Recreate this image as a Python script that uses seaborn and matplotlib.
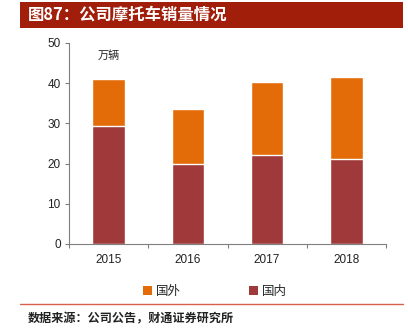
import matplotlib
matplotlib.use("Agg")
import matplotlib.pyplot as plt
import seaborn as sns
import pandas as pd
from matplotlib.patches import Rectangle, Patch
from matplotlib.lines import Line2D
from matplotlib.ticker import FixedLocator

years = ["2015", "2016", "2017", "2018"]
domestic = [29.3, 19.9, 22.1, 21.2]
foreign = [11.8, 13.6, 18.1, 20.4]
yticks = [0, 10, 20, 30, 40, 50]

sns.set_theme(style="white")
plt.rcParams['font.family'] = ['Liberation Sans', 'Noto Sans CJK SC', 'DejaVu Sans']

c_foreign = "#E36C09"
c_domestic = "#A0393A"

df = pd.DataFrame({"year": years, "domestic": domestic,
                   "total": [d + f for d, f in zip(domestic, foreign)]})

fig = plt.figure(figsize=(4.08, 3.36), dpi=100)
ax = fig.add_axes([69/408, 1-244/336, (386-69)/408, (244-43)/336])

sns.barplot(data=df, x="year", y="total", color=c_foreign, width=0.41,
            saturation=1, ax=ax, order=years)
sns.barplot(data=df, x="year", y="domestic", color=c_domestic, width=0.41,
            saturation=1, ax=ax, order=years)

ax.set_xlim(-0.5, 3.5)
ax.set_ylim(0, 50)
ax.set_yticks(yticks)
ax.set_xlabel("")
ax.set_ylabel("")
sns.despine(ax=ax)
for s in ["left", "bottom"]:
    ax.spines[s].set_color("#7f7f7f")
    ax.spines[s].set_linewidth(0.8)
ax.tick_params(axis="y", which="major", length=3, width=0.8, color="#7f7f7f",
               left=True, labelsize=8.5, pad=3, labelcolor="#222222")
ax.tick_params(axis="x", which="major", length=0, labelsize=8.5, pad=7,
               labelcolor="#222222")
ax.xaxis.set_minor_locator(FixedLocator([-0.5, 0.5, 1.5, 2.5, 3.5]))
ax.tick_params(axis="x", which="minor", length=3, width=0.8, color="#7f7f7f",
               bottom=True)

ax.text(0.092, 0.94, "万辆", transform=ax.transAxes, fontsize=8,
        family=['Noto Sans CJK SC', 'DejaVu Sans'], color="#222222",
        va="center", ha="left")

# title bar
fig.patches.append(Rectangle((20/408, 1-28/336), 383/408, 26/336,
                             transform=fig.transFigure, facecolor="#A01E0A",
                             edgecolor="none", zorder=0))
fig.text(28/408, 1-15/336, "图87：公司摩托车销量情况", color="white",
         fontsize=11.8, fontweight="bold", va="center", ha="left",
         family=['Noto Sans CJK SC', 'DejaVu Sans'])

# legend
handles = [Patch(facecolor=c_foreign, edgecolor="none", label="国外"),
           Patch(facecolor=c_domestic, edgecolor="none", label="国内")]
fig.legend(handles=handles, loc="center", bbox_to_anchor=(215/408, 1-291/336),
           ncol=2, frameon=False, handlelength=0.7,
           handleheight=0.7, handletextpad=0.3, columnspacing=5.5,
           prop={'family': ['Noto Sans CJK SC', 'DejaVu Sans'], 'size': 9})

# bottom rule and source
fig.add_artist(Line2D([20/408, 403/408], [1-304/336, 1-304/336],
                      transform=fig.transFigure, color="#D9604A", linewidth=1))
fig.text(28/408, 1-319/336, "数据来源：公司公告，财通证券研究所", fontsize=8.7,
         fontweight="bold", va="center", ha="left", color="#222222",
         family=['Noto Sans CJK SC', 'DejaVu Sans'])

fig.savefig("out.png", dpi=100)
